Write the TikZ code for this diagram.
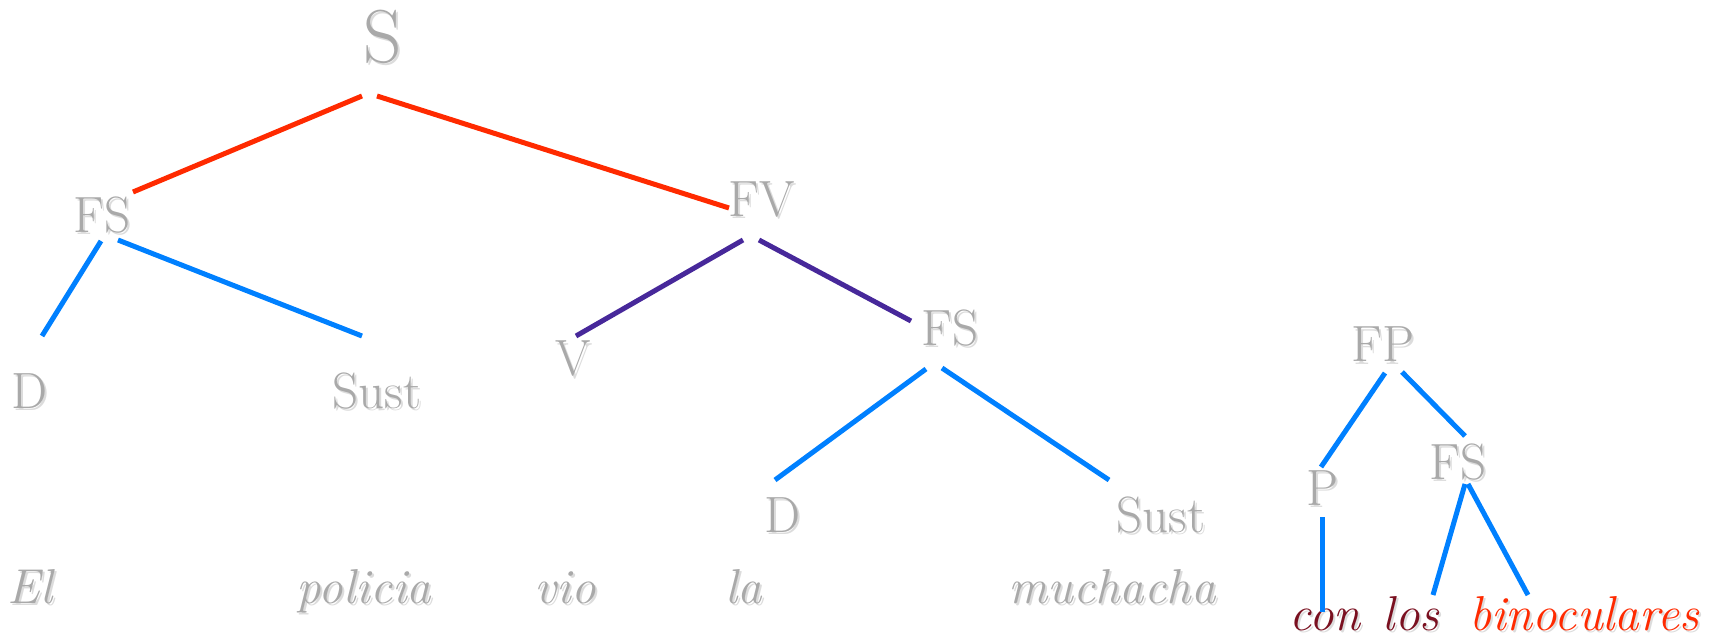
\documentclass[tikz,border=0pt]{standalone}
\usetikzlibrary{calc}
\definecolor{txtgray}{HTML}{A9A9A9}
\definecolor{shadowc}{HTML}{DCDCDC}
\definecolor{redl}{HTML}{FF2A00}
\definecolor{bluel}{HTML}{0080FF}
\definecolor{purplel}{HTML}{47289A}
\definecolor{darkred}{HTML}{7A1020}
\newcommand\shtext[1]{\makebox[0pt][l]{\hspace{2pt}\raisebox{-2pt}{\color{shadowc}#1}}#1}
\tikzset{
  cat/.style={inner sep=0pt, anchor=base, text=txtgray, font=\fontsize{51}{60}\selectfont},
  big/.style={cat, font=\fontsize{75}{80}\selectfont},
  word/.style={inner sep=0pt, anchor=base, text=txtgray, font=\fontsize{49}{58}\selectfont\itshape},
  branch/.style={line width=5pt},
  redb/.style={branch, draw=redl},
  blueb/.style={branch, draw=bluel},
  purpb/.style={branch, draw=purplel}
}
\begin{document}
\begin{tikzpicture}[x=1pt,y=-1pt]
\useasboundingbox (0,0) rectangle (1714,636);
% categories
\node[big] (S) at (383,63) {\shtext{S}};
\node[cat] (FS) at (102,233) {\shtext{FS}};
\node[cat] (FV) at (762,217) {\shtext{FV}};
\node[cat] (D) at (30,408) {\shtext{D}};
\node[cat] (Sust) at (377,408) {\shtext{Sust}};
\node[cat] (V) at (573,376) {\shtext{V}};
\node[cat] (FSb) at (950,345) {\shtext{FS}};
\node[cat] (Db) at (783,532) {\shtext{D}};
\node[cat] (Sustb) at (1161,532) {\shtext{Sust}};
\node[cat] (FP) at (1383,362) {\shtext{FP}};
\node[cat] (P) at (1322,505) {\shtext{P}};
\node[cat] (FSc) at (1458,479) {\shtext{FS}};
% words
\node[word] (El) at (30,603) {\shtext{El}};
\node[word] (policia) at (364,603) {\shtext{policia}};
\node[word] (vio) at (565,603) {\shtext{vio}};
\node[word] (la) at (744,603) {\shtext{la}};
\node[word] (muchacha) at (1112,603) {\shtext{muchacha}};
\node[word, text=darkred] (con) at (1325,630) {\shtext{con}};
\node[word, text=darkred] (los) at (1411,630) {\shtext{los}};
\node[word, text=redl] (bin) at (1584,630) {\shtext{binoculares}};
% branches
\draw[redb] ($(S.base)+(-21,33)$) -- ($(FS.base)+(31,-41)$);
\draw[redb] ($(S.base)+(-6,33)$) -- ($(FV.base)+(-33,-9)$);
\draw[blueb] ($(FS.base)+(-1,8)$) -- ($(D.base)+(12,-72)$);
\draw[blueb] ($(FS.base)+(16,7)$) -- ($(Sust.base)+(-15,-72)$);
\draw[purpb] ($(FV.base)+(-19,23)$) -- ($(V.base)+(3,-40)$);
\draw[purpb] ($(FV.base)+(-3,23)$) -- ($(FSb.base)+(-39,-24)$);
\draw[blueb] ($(FSb.base)+(-24,24)$) -- ($(Db.base)+(-8,-52)$);
\draw[blueb] ($(FSb.base)+(-8,23)$) -- ($(Sustb.base)+(-52,-52)$);
\draw[blueb] ($(FP.base)+(2,11)$) -- ($(P.base)+(-1,-38)$);
\draw[blueb] ($(FP.base)+(19,10)$) -- ($(FSc.base)+(7,-43)$);
\draw[blueb] ($(P.base)+(0,12)$) -- ($(con.base)+(-3,-18)$);
\draw[blueb] ($(FSc.base)+(7,5)$) -- ($(los.base)+(22,-35)$);
\draw[blueb] ($(FSc.base)+(10,5)$) -- ($(bin.base)+(-56,-35)$);
\end{tikzpicture}
\end{document}
